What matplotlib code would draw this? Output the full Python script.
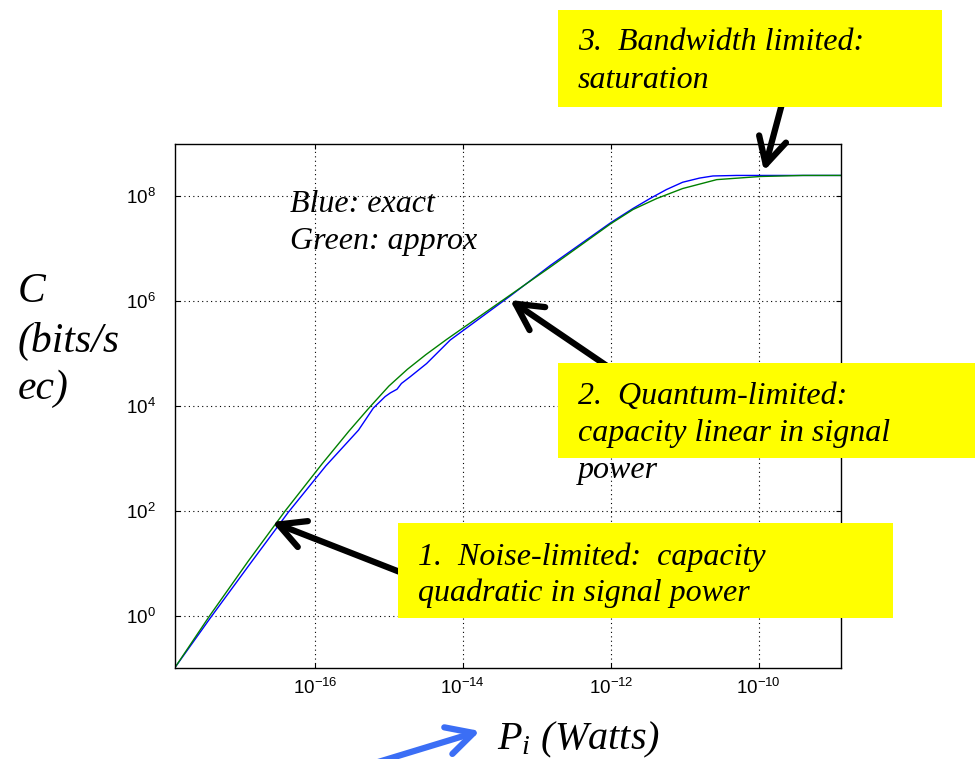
import matplotlib
matplotlib.use("Agg")
import matplotlib.pyplot as plt
from matplotlib.patches import Rectangle
import numpy as np

plt.rcParams['font.family'] = 'Liberation Sans'
plt.rcParams['mathtext.fontset'] = 'custom'
plt.rcParams['mathtext.rm'] = 'Liberation Sans'
plt.rcParams['mathtext.it'] = 'Liberation Serif:italic'

# curves, log10 of power (W) and capacity (bits/s)
exact_logp = [-17.89, -17.40, -16.88, -16.36, -15.85, -15.41, -15.21, -15.05,
              -14.98, -14.89, -14.83, -14.71, -14.49, -14.17, -13.36, -12.82,
              -12.40, -12.00, -11.70, -11.47, -11.25, -11.03, -10.80, -10.62,
              -10.30, -8.89]
exact_logc = [-0.99, -0.02, 0.98, 1.97, 2.86, 3.54, 3.96, 4.18,
              4.25, 4.32, 4.43, 4.56, 4.81, 5.26, 6.10, 6.68,
              7.10, 7.50, 7.77, 7.96, 8.13, 8.27, 8.35, 8.39,
              8.40, 8.40]
approx_logp = [-17.89, -17.42, -16.90, -16.40, -15.90, -15.54, -15.27, -15.00,
               -14.75, -14.50, -14.22, -13.50, -12.82, -12.00, -11.70, -11.38,
               -11.03, -10.57, -9.98, -9.40, -8.89]
approx_logc = [-0.99, 0.0, 1.04, 2.0, 2.90, 3.52, 3.96, 4.38,
               4.70, 4.98, 5.27, 5.98, 6.65, 7.48, 7.75, 7.96,
               8.15, 8.32, 8.38, 8.40, 8.40]

xticks = [1e-16, 1e-14, 1e-12, 1e-10]
xtick_labels = [r'$\mathregular{10^{-16}}$', r'$\mathregular{10^{-14}}$',
                r'$\mathregular{10^{-12}}$', r'$\mathregular{10^{-10}}$']
yticks = [1e0, 1e2, 1e4, 1e6, 1e8]
ytick_labels = [r'$\mathregular{10^{0}}$', r'$\mathregular{10^{2}}$',
                r'$\mathregular{10^{4}}$', r'$\mathregular{10^{6}}$',
                r'$\mathregular{10^{8}}$']

fig = plt.figure(figsize=(9.76, 7.59), dpi=100)
ax = fig.add_axes([175/976, 1-668/759, 666/976, 524/759])

ax.loglog(10**np.array(exact_logp), 10**np.array(exact_logc), color='#0000ff', lw=1)
ax.loglog(10**np.array(approx_logp), 10**np.array(approx_logc), color='#008000', lw=1)

ax.set_xlim(10**-17.89, 10**-8.89)
ax.set_ylim(1e-1, 1e9)
ax.set_xticks(xticks)
ax.set_xticklabels(xtick_labels)
ax.set_yticks(yticks)
ax.set_yticklabels(ytick_labels)
ax.minorticks_off()
ax.tick_params(direction='in', length=3.5, top=True, right=True, labelsize=13.5)
ax.tick_params(axis='x', pad=7)
ax.tick_params(axis='y', pad=14)
ax.grid(True, color='k', ls=(0, (1, 3)), lw=0.8)
for s in ax.spines.values():
    s.set_linewidth(1)

# overlay in pixel coordinates for the slide annotations
ov = fig.add_axes([0, 0, 1, 1], zorder=5)
ov.set_xlim(0, 976)
ov.set_ylim(759, 0)
ov.axis('off')
ov.patch.set_alpha(0)

serif = dict(family='Liberation Serif', style='italic', color='k', va='baseline', ha='left')

arrow = dict(arrowstyle='->,head_length=0.95,head_width=0.5', lw=4.5, color='k',
             mutation_scale=20, shrinkA=0, shrinkB=0)
ov.annotate('', xy=(272, 522), xytext=(405, 574), arrowprops=arrow)
ov.annotate('', xy=(510, 300), xytext=(610, 368), arrowprops=arrow)
ov.annotate('', xy=(764, 171), xytext=(783, 100), arrowprops=arrow)

ov.add_patch(Rectangle((558, 10), 384, 97, facecolor='#ffff00', edgecolor='none', zorder=3))
ov.add_patch(Rectangle((558, 363), 417, 95, facecolor='#ffff00', edgecolor='none', zorder=3))
ov.add_patch(Rectangle((398, 523), 495, 95, facecolor='#ffff00', edgecolor='none', zorder=3))

ov.text(578, 50, '3.  Bandwidth limited:', fontsize=23, zorder=4, **serif)
ov.text(578, 88, 'saturation', fontsize=23, zorder=4, **serif)
ov.text(578, 404, '2.  Quantum-limited:', fontsize=23, zorder=4, **serif)
ov.text(578, 441, 'capacity linear in signal', fontsize=23, zorder=4, **serif)
ov.text(578, 478, 'power', fontsize=23, zorder=4, **serif)
ov.text(418, 565, '1.  Noise-limited:  capacity', fontsize=23, zorder=4, **serif)
ov.text(418, 601, 'quadratic in signal power', fontsize=23, zorder=4, **serif)

ov.text(290, 212, 'Blue: exact', fontsize=23, **serif)
ov.text(290, 249, 'Green: approx', fontsize=23, **serif)

ov.text(18, 302, 'C', fontsize=30, **serif)
ov.text(18, 352, '(bits/s', fontsize=30, **serif)
ov.text(18, 399, 'ec)', fontsize=30, **serif)

ov.text(497, 749, r'$P_i$ (Watts)', fontsize=29, **serif)
ov.annotate('', xy=(480, 731), xytext=(365, 766),
            arrowprops=dict(arrowstyle='->,head_length=0.95,head_width=0.5', lw=4.5,
                            color='#3b6ef5', mutation_scale=20, shrinkA=0, shrinkB=0))

fig.savefig('out.png', dpi=100)
